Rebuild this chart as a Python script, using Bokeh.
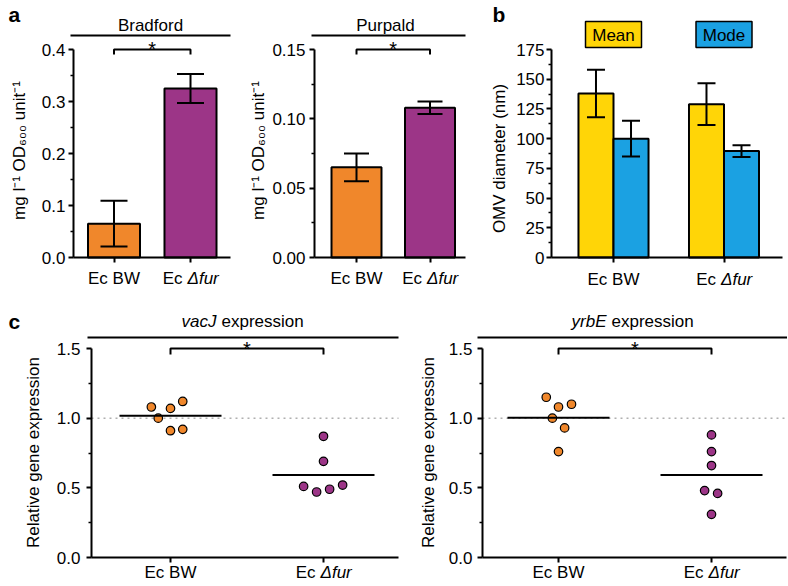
import numpy as np
from math import pi
from bokeh.plotting import figure
from bokeh.models import (Range1d, FixedTicker, PrintfTickFormatter,
                          Whisker, TeeHead, ColumnDataSource)
from bokeh.layouts import row, column
from bokeh.embed import file_html
from bokeh.resources import INLINE
from bokeh.core.properties import value

# ---------------- data ----------------
groups = ["Ec BW", "Ec \u0394fur"]

bradford_mean = [0.065, 0.325]
bradford_err = [0.044, 0.028]
purpald_mean = [0.065, 0.108]
purpald_err = [0.010, 0.0045]

omv_mean = [138.0, 129.0]
omv_mean_err = [20.0, 17.5]
omv_mode = [100.0, 89.5]
omv_mode_err = [15.0, 5.0]

vacj_bw = [1.08, 1.00, 1.07, 1.12, 0.91, 0.92]
vacj_fur = [0.87, 0.69, 0.51, 0.47, 0.49, 0.52]
yrbe_bw = [1.15, 1.08, 1.10, 1.00, 0.93, 0.76]
yrbe_fur = [0.88, 0.76, 0.66, 0.48, 0.46, 0.31]
# horizontal beeswarm offsets (category units)
vacj_bw_jit = [-0.125, -0.08, 0.0, 0.08, 0.0, 0.08]
vacj_fur_jit = [0.0, 0.0, -0.13, -0.045, 0.04, 0.125]
yrbe_bw_jit = [-0.08, 0.0, 0.085, -0.04, 0.04, 0.0]
yrbe_fur_jit = [0.0, 0.0, 0.0, -0.045, 0.04, 0.0]

bradford_ticks = [0.0, 0.1, 0.2, 0.3, 0.4]
purpald_ticks = [0.0, 0.05, 0.10, 0.15]
omv_ticks = [0, 25, 50, 75, 100, 125, 150, 175]
expr_ticks = [0.0, 0.5, 1.0, 1.5]

# ---------------- style ----------------
FONT = "Liberation Sans"
FS = "17px"
ORANGE = "#F0872B"
PURPLE = "#9C3587"
YELLOW = "#FFD507"
BLUE = "#1BA1E2"


class Panel:
    """A figure whose frame fills its whole canvas; the axes sit at fixed locations
    so that page pixel positions can be mapped to data coordinates."""

    def __init__(self, box, axis_l, axis_r, axis_b, cat0, ppu, ymax, ymax_py):
        x0, y0, x1, y1 = box
        self.box, self.cat0, self.ppu, self.axis_b = box, cat0, ppu, axis_b
        self.k = ymax / (axis_b - ymax_py)
        p = figure(width=x1 - x0, height=y1 - y0,
                   x_range=Range1d(self.xv(x0), self.xv(x1)),
                   y_range=Range1d(self.yv(y1), self.yv(y0)),
                   min_border_left=0, min_border_right=0,
                   min_border_top=0, min_border_bottom=0,
                   output_backend="svg", toolbar_location=None, tools="")
        p.outline_line_color = None
        p.grid.visible = False
        p.background_fill_color = "white"
        p.border_fill_color = "white"
        self.p = p
        self.ax_l, self.ax_r = self.xv(axis_l), self.xv(axis_r)

    def yv(self, py):
        return (self.axis_b - py) * self.k

    def xv(self, px):
        return (px - self.cat0) / self.ppu

    def text(self, x, py, t, align="center", style="normal", size=FS, dx=0, angle=0.0):
        # py is the vertical centre of the text line (page pixels)
        self.p.text(x=[x], y=[self.yv(py)], text=[t], text_font=value(FONT),
                    text_font_size=size, text_font_style=style, text_align=align,
                    text_baseline="middle", x_offset=dx, angle=angle, text_color="black")


def style_axes(P, ticks, fmt, standoff):
    p = P.p
    minor = [(a + b) / 2 for a, b in zip(ticks[:-1], ticks[1:])]
    ya = p.yaxis[0]
    ya.fixed_location = P.ax_l
    ya.ticker = FixedTicker(ticks=ticks, minor_ticks=minor)
    ya.formatter = PrintfTickFormatter(format=fmt)
    ya.bounds = (0, ticks[-1])
    xa = p.xaxis[0]
    xa.fixed_location = 0
    xa.ticker = FixedTicker(ticks=[0, 1])
    xa.bounds = (P.ax_l, P.ax_r)
    xa.major_label_overrides = {0: "", 1: ""}
    xa.major_label_text_font_size = "1px"
    for ax in (ya, xa):
        ax.axis_line_width = 2
        ax.axis_line_color = "black"
        ax.major_tick_line_width = 2
        ax.major_tick_line_color = "black"
        ax.minor_tick_line_width = 1.5
        ax.minor_tick_line_color = "black"
        ax.major_tick_out = 5
        ax.major_tick_in = 0
        ax.minor_tick_out = 3
        ax.minor_tick_in = 0
        ax.major_label_text_font = FONT
        ax.major_label_text_color = "black"
    ya.major_label_text_font_size = FS
    ya.major_label_standoff = standoff


def ylabel(P, t, cx, cy):
    P.text(P.xv(cx), cy, t, angle=pi / 2)


def cat_labels(P, mid_py):
    P.text(0, mid_py, groups[0])
    head, tail = groups[1].split(" ")
    P.text(1, mid_py, head, align="right", dx=-8)
    P.text(1, mid_py, tail, align="left", dx=-3, style="italic")


def panel_letter(P, letter, px, mid_py):
    P.text(P.xv(px), mid_py, letter, align="left", style="bold", size="21px")


def title_bar(P, bar_py, x0_px, x1_px, parts, center_px, mid_py, split_offset=0):
    yb = P.yv(bar_py)
    P.p.segment(x0=[P.xv(x0_px)], y0=[yb], x1=[P.xv(x1_px)], y1=[yb],
                line_color="black", line_width=2)
    cx = P.xv(center_px)
    if len(parts) == 1:
        P.text(cx, mid_py, parts[0])
    else:
        P.text(cx, mid_py, parts[0], align="right", style="italic", dx=split_offset)
        P.text(cx, mid_py, parts[1], align="left", dx=split_offset + 5)


def bracket(P, top_val, drop_px, star_mid_py):
    ylo = top_val - drop_px * P.k
    P.p.multi_line(xs=[[0, 0, 1, 1]], ys=[[ylo, top_val, top_val, ylo]],
                   line_color="black", line_width=2)
    P.text(0.5, star_mid_py, "*", size="20px")


def errorbars(P, xs, means, errs, head):
    src = ColumnDataSource(dict(x=xs,
                                upper=[m + e for m, e in zip(means, errs)],
                                lower=[m - e for m, e in zip(means, errs)]))
    P.p.add_layout(Whisker(source=src, base="x", upper="upper", lower="lower",
                           dimension="height", line_color="black", line_width=2,
                           upper_head=TeeHead(size=head, line_width=2, line_color="black"),
                           lower_head=TeeHead(size=head, line_width=2, line_color="black"),
                           level="overlay"))


cats = [0, 1]
A_LABEL = "mg l\u207b\u00b9 OD\u2086\u2080\u2080 unit\u207b\u00b9"

# ---------------- panel a: Bradford ----------------
A1 = Panel((0, 0, 248, 296), 73, 230, 257, 113.5, 76.5, bradford_ticks[-1], 49)
A1.p.vbar(x=cats, top=bradford_mean, width=0.68, fill_color=[ORANGE, PURPLE],
          line_color="black", line_width=2)
errorbars(A1, cats, bradford_mean, bradford_err, 27)
style_axes(A1, bradford_ticks, "%.1f", 3)
title_bar(A1, 35, 70, 230, ["Bradford"], 150, 25)
bracket(A1, bradford_ticks[-1], 5, 48.5)
ylabel(A1, A_LABEL, 19, 150)
cat_labels(A1, 277.5)
panel_letter(A1, "a", 8, 13.5)

# ---------------- panel a: Purpald ----------------
A2 = Panel((248, 0, 478, 296), 314, 465, 257, 356, 73.5, purpald_ticks[-1], 49)
A2.p.vbar(x=cats, top=purpald_mean, width=0.68, fill_color=[ORANGE, PURPLE],
          line_color="black", line_width=2)
errorbars(A2, cats, purpald_mean, purpald_err, 25)
style_axes(A2, purpald_ticks, "%.2f", 4)
title_bar(A2, 35, 311, 465, ["Purpald"], 385, 25)
bracket(A2, purpald_ticks[-1], 5, 48.5)
ylabel(A2, A_LABEL, 258, 150)
cat_labels(A2, 277.5)

# ---------------- panel b: OMV diameter ----------------
B = Panel((478, 0, 787, 296), 551, 782, 257, 613, 110.5, omv_ticks[-1], 49)
bw = 0.317
B.p.vbar(x=[c - bw / 2 for c in cats], top=omv_mean, width=bw, fill_color=YELLOW,
         line_color="black", line_width=2)
B.p.vbar(x=[c + bw / 2 for c in cats], top=omv_mode, width=bw, fill_color=BLUE,
         line_color="black", line_width=2)
errorbars(B, [c - bw / 2 for c in cats], omv_mean, omv_mean_err, 18)
errorbars(B, [c + bw / 2 for c in cats], omv_mode, omv_mode_err, 18)
style_axes(B, omv_ticks, "%d", 2)
# legend boxes
half = 28 / B.ppu
B.p.quad(left=[c - half for c in cats], right=[c + half for c in cats],
         top=[B.yv(21)] * 2, bottom=[B.yv(47)] * 2, fill_color=[YELLOW, BLUE],
         line_color="black", line_width=1.5)
B.text(0, 34.5, "Mean")
B.text(1, 34.5, "Mode")
ylabel(B, "OMV diameter (nm)", 499, 158)
cat_labels(B, 279)
panel_letter(B, "b", 492, 13.5)


# ---------------- panel c ----------------
def expr_panel(P, bw_vals, bw_jit, fur_vals, fur_jit, gene, bar_x0, bar_x1, center_px):
    p = P.p
    p.segment(x0=[P.ax_l], y0=[1.0], x1=[P.ax_r], y1=[1.0], line_color="#888888",
              line_dash="dotted", line_width=1)
    p.scatter(x=[0 + j for j in bw_jit], y=bw_vals, size=8.5, marker="circle",
              fill_color=ORANGE, line_color="black", line_width=1.2)
    p.scatter(x=[1 + j for j in fur_jit], y=fur_vals, size=8.5, marker="circle",
              fill_color=PURPLE, line_color="black", line_width=1.2)
    means = [float(np.mean(bw_vals)), float(np.mean(fur_vals))]
    hw = 51 / P.ppu
    p.segment(x0=[c - hw for c in cats], y0=means, x1=[c + hw for c in cats], y1=means,
              line_color="black", line_width=2)
    style_axes(P, expr_ticks, "%.1f", 6)
    title_bar(P, 337, bar_x0, bar_x1, [gene, "expression"], center_px, 321, split_offset=-26)
    bracket(P, expr_ticks[-1], 6, 348.5)
    cat_labels(P, 572)


C1 = Panel((0, 296, 412, 585), 91, 398, 557, 170, 153, expr_ticks[-1], 348)
expr_panel(C1, vacj_bw, vacj_bw_jit, vacj_fur, vacj_fur_jit, "vacJ", 87, 398, 242)
ylabel(C1, "Relative gene expression", 33, 452)
panel_letter(C1, "c", 8, 320.5)

C2 = Panel((412, 296, 787, 585), 482, 786, 557, 558, 153, expr_ticks[-1], 348)
expr_panel(C2, yrbe_bw, yrbe_bw_jit, yrbe_fur, yrbe_fur_jit, "yrbE", 477, 787, 632)
C2.p.yaxis[0].major_label_standoff = 5
ylabel(C2, "Relative gene expression", 428, 452)

layout = column(row(A1.p, A2.p, B.p), row(C1.p, C2.p))
open("out.html", "w").write(file_html(layout, INLINE))
